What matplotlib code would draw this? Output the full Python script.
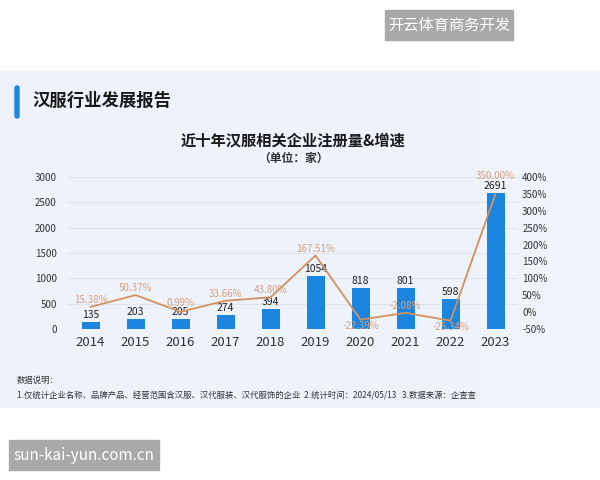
import numpy as np
import matplotlib.pyplot as plt
from matplotlib.patches import Rectangle, FancyBboxPatch

plt.rcParams['font.family'] = ['Noto Sans CJK SC', 'DejaVu Sans']

years = ['2014', '2015', '2016', '2017', '2018', '2019', '2020', '2021', '2022', '2023']
counts = [135, 203, 205, 274, 394, 1054, 818, 801, 598, 2691]
growth = [15.38, 50.37, 0.99, 33.66, 43.80, 167.51, -22.39, -2.08, -25.34, 350.00]
left_ticks = [0, 500, 1000, 1500, 2000, 2500, 3000]
right_ticks = [-50, 0, 50, 100, 150, 200, 250, 300, 350, 400]

W, H = 600, 480
fig = plt.figure(figsize=(6, 4.8), dpi=100)
fig.patch.set_facecolor('white')

# background layer in pixel coords
bg = fig.add_axes([0, 0, 1, 1])
bg.set_xlim(0, W)
bg.set_ylim(H, 0)
bg.axis('off')

# light panel with soft horizontal gradient
grad = np.linspace(0, 1, 256)
col = np.array([0.93, 0.95, 0.985])[None, :] * (1 - 0.4 * np.abs(grad - 0.35)[:, None]) \
    + np.array([0.97, 0.975, 0.99])[None, :] * (0.4 * np.abs(grad - 0.35)[:, None])
bg.imshow(col[None, :, :], extent=[0, W, 408, 71], aspect='auto', zorder=0)

# watermarks
bg.add_patch(Rectangle((385, 10), 128, 30, color='#a9a9a9', zorder=2))
bg.text(449, 25, '开云体育商务开发', color='white', fontsize=11, ha='center', va='center', zorder=3)
bg.add_patch(Rectangle((9, 440), 150, 30, color='#a9a9a9', zorder=2))
bg.text(84, 455, 'sun-kai-yun.com.cn', color='white', fontsize=11, ha='center', va='center', zorder=3)

# header
bg.add_patch(FancyBboxPatch((15, 86), 4, 32, boxstyle='round,pad=0,rounding_size=2',
                            color='#1a86e6', zorder=2))
bg.text(32, 101, '汉服行业发展报告', fontsize=12.5, fontweight='bold', color='#1a1a1a',
        va='center', ha='left')

# chart titles
bg.text(293, 141, '近十年汉服相关企业注册量&增速', fontsize=11, fontweight='bold',
        color='#1a1a1a', ha='center', va='center')
bg.text(293, 158, '（单位：家）', fontsize=8.5, fontweight='bold', color='#333333',
        ha='center', va='center')

# footnote
bg.text(17, 380, '数据说明：', fontsize=6, color='#333333', va='center')
bg.text(17, 395, '1.仅统计企业名称、品牌产品、经营范围含汉服、汉代服装、汉代服饰的企业  '
        '2.统计时间：2024/05/13   3.数据来源：企查查', fontsize=6, color='#333333', va='center')

# main chart
ax = fig.add_axes([68 / W, 1 - 329 / H, 450 / W, 152 / H])
ax.set_facecolor('none')
x = np.arange(len(years))
ax.bar(x, counts, width=0.4, color='#1a86e0', zorder=3)
for xi, c in zip(x, counts):
    ax.text(xi, c + 40, str(c), ha='center', va='bottom', fontsize=7.5, fontweight='medium',
            color='#222222', zorder=5)
ax.set_xlim(-0.5, len(years) - 0.5)
ax.set_ylim(0, 3000)
ax.set_yticks(left_ticks)
ax.set_xticks(x)
ax.set_xticklabels(years, fontsize=9.5, color='#333333')
ax.tick_params(axis='y', labelsize=7, colors='#333333', length=0, pad=8)
ax.tick_params(axis='x', length=0, pad=5)
ax.grid(axis='y', color='#dde3ec', linewidth=0.8, zorder=0)
for s in ax.spines.values():
    s.set_visible(False)

ax2 = ax.twinx()
ax2.plot(x, growth, color='#d4915f', linewidth=1.3, zorder=4)
ax2.set_ylim(-50, 400)
ax2.set_yticks(right_ticks)
ax2.set_yticklabels([f'{t}%' for t in right_ticks])
ax2.tick_params(axis='y', labelsize=7, colors='#333333', length=0, pad=3)
for s in ax2.spines.values():
    s.set_visible(False)
for i, (xi, g) in enumerate(zip(x, growth)):
    if g < 0 and i != 7:
        off, va = -4, 'top'
    else:
        off, va = 6, 'bottom'
    if i == 2:
        off = 12
    if i == 9:
        off = 38
    ax2.text(xi, g + off, f'{g:.2f}%', ha='center', va=va, fontsize=7,
             color='#d8a07e', zorder=6)

fig.savefig('out.png', dpi=100)
